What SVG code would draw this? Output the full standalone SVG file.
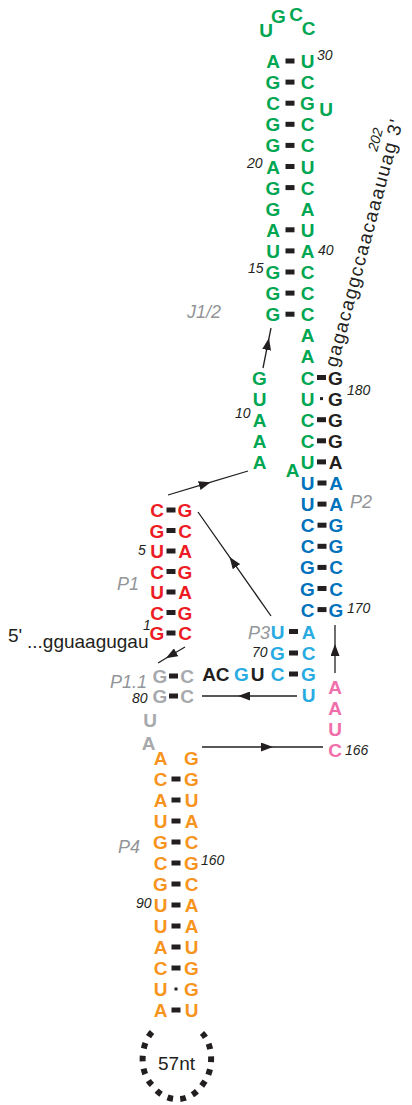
<svg xmlns="http://www.w3.org/2000/svg" width="412" height="1105" viewBox="0 0 412 1105">
<defs>
<style>
.n{font-family:"Liberation Sans",Arial,Helvetica,sans-serif;font-weight:bold;font-size:19px;text-anchor:middle}
.g{fill:#00a651}.r{fill:#ed1c24}.b{fill:#0072bc}.c{fill:#29abe2}.p{fill:#f06eaa}.y{fill:#a7a9ac}.o{fill:#f7941d}.k{fill:#231f20}
.i{font-family:"Liberation Sans",Arial,sans-serif;font-style:italic;font-size:14px;fill:#231f20}
.L{font-family:"Liberation Sans",Arial,sans-serif;font-style:italic;font-size:18px;fill:#939598}
.t{font-family:"Liberation Sans",Arial,sans-serif;font-size:19px;fill:#231f20}
.d{fill:#231f20}
.a{fill:none;stroke:#231f20;stroke-width:1.3;marker-mid:url(#ah)}
</style>
<marker id="ah" markerUnits="userSpaceOnUse" markerWidth="12" markerHeight="9" refX="6" refY="4.5" orient="auto"><path d="M0,0 L12,4.5 L0,9 z" fill="#231f20"/></marker>
</defs>

<g id="P2-upper">
<g class="n g">
<text x="266" y="37">U</text><text x="278.5" y="23">G</text><text x="296" y="21">C</text><text x="308.5" y="35">C</text>
<text x="326" y="116">U</text>
<text x="273" y="68">A</text><text x="307.5" y="68">U</text>
<text x="273" y="89.1">G</text><text x="307.5" y="89.1">C</text>
<text x="273" y="110.2">C</text><text x="307.5" y="110.2">G</text>
<text x="273" y="131.3">G</text><text x="307.5" y="131.3">C</text>
<text x="273" y="152.4">G</text><text x="307.5" y="152.4">C</text>
<text x="273" y="173.5">A</text><text x="307.5" y="173.5">U</text>
<text x="273" y="194.6">G</text><text x="307.5" y="194.6">C</text>
<text x="273" y="215.7">G</text><text x="307.5" y="215.7">A</text>
<text x="273" y="236.8">A</text><text x="307.5" y="236.8">U</text>
<text x="273" y="257.9">U</text><text x="307.5" y="257.9">A</text>
<text x="273" y="279">G</text><text x="307.5" y="279">C</text>
<text x="273" y="300.1">G</text><text x="307.5" y="300.1">C</text>
<text x="273" y="321.2">G</text><text x="307.5" y="321.2">C</text>
<text x="307.5" y="342.3">A</text>
<text x="307.5" y="363.4">A</text>
<text x="307.5" y="384.5">C</text>
<text x="307.5" y="405.6">U</text>
<text x="307.5" y="426.7">C</text>
<text x="307.5" y="447.8">C</text>
<text x="307.5" y="468.9">U</text>
<text x="292.5" y="477">A</text>
</g>
<g class="d">
<rect x="285.5" y="58.5" width="9" height="5"/>
<rect x="285.5" y="79.6" width="9" height="5"/>
<rect x="285.5" y="100.7" width="9" height="5"/>
<rect x="285.5" y="121.8" width="9" height="5"/>
<rect x="285.5" y="142.9" width="9" height="5"/>
<rect x="285.5" y="164" width="9" height="5"/>
<rect x="285.5" y="185.1" width="9" height="5"/>
<rect x="285.5" y="227.3" width="9" height="5"/>
<rect x="285.5" y="248.4" width="9" height="5"/>
<rect x="285.5" y="269.5" width="9" height="5"/>
<rect x="285.5" y="290.6" width="9" height="5"/>
<rect x="285.5" y="311.7" width="9" height="5"/>
<rect x="317" y="375" width="9" height="5"/>
<rect x="320" y="397.1" width="3" height="3"/>
<rect x="317" y="417.2" width="9" height="5"/>
<rect x="317" y="438.3" width="9" height="5"/>
<rect x="317" y="459.4" width="9" height="5"/>
</g>
<g class="i">
<text x="317" y="60">30</text><text x="247" y="168">20</text><text x="318" y="255">40</text><text x="248" y="273">15</text>
</g>
<text class="L" x="187" y="318">J1/2</text>
</g>

<g id="J1-2">
<g class="n g">
<text x="259.5" y="384.5">G</text><text x="259.5" y="405.6">U</text><text x="259.5" y="426.7">A</text><text x="259.5" y="447.8">A</text><text x="259.5" y="468.9">A</text>
</g>
<text class="i" x="235" y="418">10</text>
</g>

<g id="tail-3p">
<g class="n k">
<text x="335.5" y="384.5">G</text><text x="335.5" y="405.6">G</text><text x="335.5" y="426.7">G</text><text x="335.5" y="447.8">G</text><text x="335.5" y="468.9">A</text>
</g>
<text class="i" x="347" y="395">180</text>
<text class="t" font-size="20" transform="translate(337,368) rotate(-75)" textLength="255" lengthAdjust="spacing">gagacaggccaacaaauuag 3'</text>
<text class="i" transform="translate(377,152) rotate(-75)">202</text>
</g>

<g id="P2">
<g class="n b">
<text x="307.5" y="490">U</text><text x="336" y="490">A</text>
<text x="307.5" y="511.1">U</text><text x="336" y="511.1">A</text>
<text x="307.5" y="532.2">C</text><text x="336" y="532.2">G</text>
<text x="307.5" y="553.3">C</text><text x="336" y="553.3">G</text>
<text x="307.5" y="574.4">G</text><text x="336" y="574.4">C</text>
<text x="307.5" y="595.5">G</text><text x="336" y="595.5">C</text>
<text x="307.5" y="616.6">C</text><text x="336" y="616.6">G</text>
</g>
<g class="d">
<rect x="317.5" y="480.5" width="9" height="5"/>
<rect x="317.5" y="501.6" width="9" height="5"/>
<rect x="317.5" y="522.7" width="9" height="5"/>
<rect x="317.5" y="543.8" width="9" height="5"/>
<rect x="317.5" y="564.9" width="9" height="5"/>
<rect x="317.5" y="586" width="9" height="5"/>
<rect x="317.5" y="607.1" width="9" height="5"/>
</g>
<text class="L" x="350" y="508">P2</text>
<text class="i" x="347" y="613">170</text>
</g>

<g id="P3">
<g class="n c">
<text x="277.5" y="638.5">U</text><text x="308.5" y="638.5">A</text>
<text x="277.5" y="660">G</text><text x="308.5" y="660">C</text>
<text x="241.5" y="681">G</text><text x="277.5" y="681">C</text><text x="308.5" y="681">G</text>
<text x="308.5" y="702">U</text>
</g>
<g class="n k">
<text x="209" y="681">A</text><text x="222.5" y="681">C</text><text x="257.5" y="681">U</text>
</g>
<g class="d">
<rect x="289" y="629" width="9" height="5"/>
<rect x="289" y="650.5" width="9" height="5"/>
<rect x="289" y="671.5" width="9" height="5"/>
</g>
<text class="L" x="248" y="639">P3</text>
<text class="i" x="252" y="657">70</text>
</g>

<g id="J3-2">
<g class="n p">
<text x="335" y="693.5">A</text><text x="335" y="714.5">A</text><text x="335" y="735.5">U</text><text x="335" y="757">C</text>
</g>
<text class="i" x="345" y="755">166</text>
</g>

<g id="P1">
<g class="n r">
<text x="157" y="517">C</text><text x="185" y="517">G</text>
<text x="157" y="537.5">G</text><text x="185" y="537.5">C</text>
<text x="157" y="558">U</text><text x="185" y="558">A</text>
<text x="157" y="578.5">C</text><text x="185" y="578.5">G</text>
<text x="157" y="599">U</text><text x="185" y="599">A</text>
<text x="157" y="619.5">C</text><text x="185" y="619.5">G</text>
<text x="157" y="640">G</text><text x="185" y="640">C</text>
</g>
<g class="d">
<rect x="166.5" y="507.5" width="9" height="5"/>
<rect x="166.5" y="528" width="9" height="5"/>
<rect x="166.5" y="548.5" width="9" height="5"/>
<rect x="166.5" y="569" width="9" height="5"/>
<rect x="166.5" y="589.5" width="9" height="5"/>
<rect x="166.5" y="610" width="9" height="5"/>
<rect x="166.5" y="630.5" width="9" height="5"/>
</g>
<text class="L" x="117" y="590">P1</text>
<text class="i" x="138" y="555">5</text>
<text class="i" x="143" y="630">1</text>
<text class="t" x="8" y="642" font-size="18">5'</text>
<text class="t" x="27" y="648">...gguaagugau</text>
</g>

<g id="P1-1">
<g class="n y">
<text x="160" y="683">G</text><text x="187" y="683">C</text>
<text x="160" y="703">G</text><text x="187" y="703">C</text>
<text x="150" y="727">U</text>
<text x="148.5" y="750">A</text>
</g>
<g class="d">
<rect x="169" y="673.5" width="9" height="5"/>
<rect x="169" y="693.5" width="9" height="5"/>
</g>
<text class="L" x="110" y="688">P1.1</text>
<text class="i" x="132" y="703">80</text>
</g>

<g id="P4">
<g class="n o">
<text x="160.5" y="765">A</text><text x="191.5" y="765">G</text>
<text x="160.5" y="786">C</text><text x="191.5" y="786">G</text>
<text x="160.5" y="807">A</text><text x="191.5" y="807">U</text>
<text x="160.5" y="828">U</text><text x="191.5" y="828">A</text>
<text x="160.5" y="849">G</text><text x="191.5" y="849">C</text>
<text x="160.5" y="870">C</text><text x="191.5" y="870">G</text>
<text x="160.5" y="891">G</text><text x="191.5" y="891">C</text>
<text x="160.5" y="912">U</text><text x="191.5" y="912">A</text>
<text x="160.5" y="933">U</text><text x="191.5" y="933">A</text>
<text x="160.5" y="954">A</text><text x="191.5" y="954">U</text>
<text x="160.5" y="975">C</text><text x="191.5" y="975">G</text>
<text x="160.5" y="996">U</text><text x="191.5" y="996">G</text>
<text x="160.5" y="1017">A</text><text x="191.5" y="1017">U</text>
</g>
<g class="d">
<rect x="171.5" y="776.5" width="9" height="5"/>
<rect x="171.5" y="797.5" width="9" height="5"/>
<rect x="171.5" y="818.5" width="9" height="5"/>
<rect x="171.5" y="839.5" width="9" height="5"/>
<rect x="171.5" y="860.5" width="9" height="5"/>
<rect x="171.5" y="881.5" width="9" height="5"/>
<rect x="171.5" y="902.5" width="9" height="5"/>
<rect x="171.5" y="923.5" width="9" height="5"/>
<rect x="171.5" y="944.5" width="9" height="5"/>
<rect x="171.5" y="965.5" width="9" height="5"/>
<rect x="174.5" y="987.5" width="3" height="3"/>
<rect x="171.5" y="1007.5" width="9" height="5"/>
</g>
<text class="L" x="118" y="853">P4</text>
<text class="i" x="201" y="865">160</text>
<text class="i" x="136" y="908">90</text>
</g>

<g id="loop-57nt">
<path d="M152,1032 C140,1045 139,1072 152,1085 C165,1104 190,1104 203,1084 C214,1071 214,1045 202,1033" fill="none" stroke="#231f20" stroke-width="6" pathLength="100" stroke-dasharray="3.3 4.15"/>
<text class="t" x="176.5" y="1070" font-size="18" text-anchor="middle">57nt</text>
</g>

<g id="connectors">
<path class="a" d="M263,368 L267.8,344 L271,328"/>
<path class="a" d="M168,495 L205,483.9 L248,471"/>
<path class="a" d="M271,616 L233,561.8 L198,512"/>
<path class="a" d="M185,647 L171,655.3 L158,663"/>
<path class="a" d="M297,696 L244,696 L202,696"/>
<path class="a" d="M335,673 L335,650 L335,625"/>
<path class="a" d="M202,747 L267,747 L323,747"/>
</g>
</svg>
